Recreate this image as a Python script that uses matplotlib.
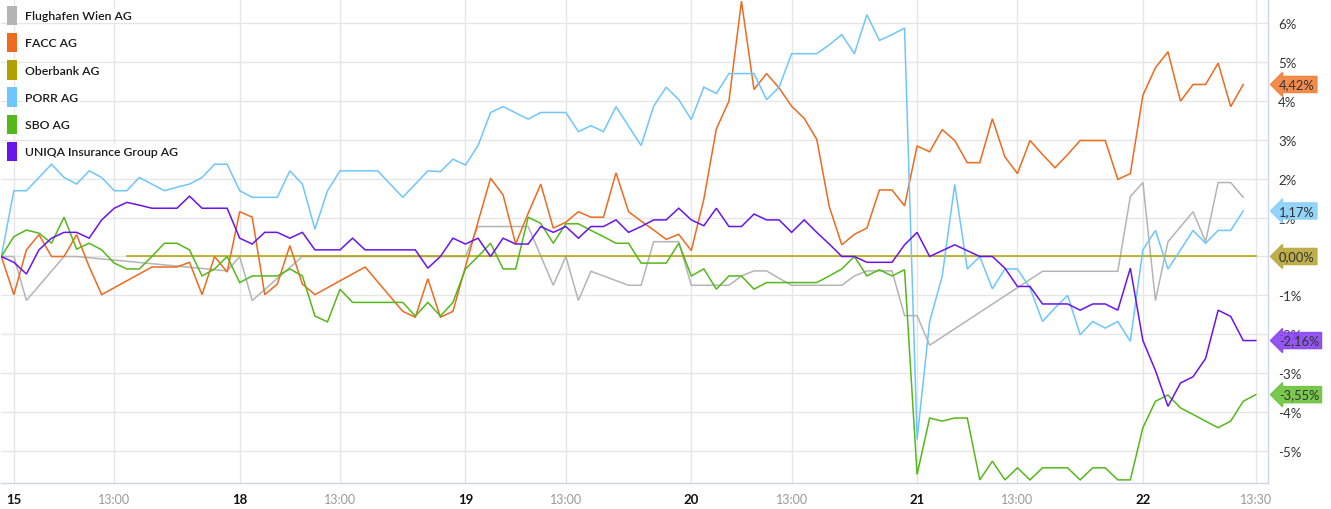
import numpy as np
import matplotlib.pyplot as plt
from matplotlib.patches import Patch
from matplotlib.transforms import blended_transform_factory

# --- DATA: % change, 30-minute steps (index 0 = previous close) ---
names = ['Flughafen Wien AG', 'FACC AG', 'Oberbank AG', 'PORR AG', 'SBO AG',
         'UNIQA Insurance Group AG']
colors = ['#b4b4b4', '#ee6a1e', '#b0a000', '#6ec6ff', '#55b81a', '#6a14ec']
tag_colors = ['#b4b4b4', '#f0803a', '#b8a83a', '#88d0fa', '#6cc23a', '#8844f0']
show_tag = [False, True, True, True, True, True]

flughafen = [0, 0, -1.13, None, None, 0, 0, None, None, None,
             None, None, None, None, None, None, None, None, -0.37, 0,
             -1.13, None, None, None, 0, None, None, None, None, None,
             None, None, None, None, None, None, None, 0, 0.77, 0.77,
             0.77, 0.77, 0.77, None, -0.74, 0, -1.13, -0.38, -0.50, -0.62,
             -0.74, -0.74, 0.38, 0.38, 0.38, -0.74, -0.74, -0.74, -0.74, -0.50,
             -0.37, -0.37, -0.56, -0.74, -0.74, -0.74, -0.74, -0.74, -0.50, -0.37,
             -0.37, -0.37, -1.52, -1.52, -2.28, None, None, None, None, None,
             None, None, None, -0.38, None, None, None, None, None, -0.38,
             1.54, 1.90, -1.13, 0.38, None, 1.15, 0.38, 1.90, 1.90, 1.52, None]

facc = [0, -0.98, 0.17, 0.56, 0, 0, 0.56, -0.26, -0.98, None,
        None, None, -0.27, -0.27, -0.27, -0.15, -0.98, 0, -0.40, 1.15,
        1.01, -0.98, -0.71, 0.28, -0.71, -0.98, None, None, None, -0.27,
        None, None, -1.41, -1.56, -0.57, -1.56, -1.41, -0.26, 0.89, 2.01,
        1.58, 0.32, 1.11, 1.86, 0.73, 0.88, 1.15, 1.01, 1.01, 2.15,
        1.15, 0.91, 0.68, 0.44, 0.57, 0.15, 1.47, 3.28, 3.99, 6.56,
        4.29, 4.70, 4.33, 3.86, 3.55, 3.01, 1.28, 0.30, 0.57, 0.73,
        1.71, 1.71, 1.30, 2.84, 2.69, 3.26, 2.98, 2.41, 2.41, 3.54,
        2.56, 2.13, 2.98, 2.62, 2.28, 2.62, 2.98, 2.98, 2.98, 1.98,
        2.13, 4.14, 4.85, 5.26, 3.99, 4.42, 4.42, 4.97, 3.85, 4.42, None]

oberbank = [None] * 10 + [0.0] * 91

porr = [0, 1.69, 1.69, 2.03, 2.37, 2.03, 1.86, 2.20, 2.03, 1.69,
        1.69, 2.03, 1.86, 1.69, 1.78, 1.86, 2.03, 2.37, 2.37, 1.69,
        1.52, 1.52, 1.52, 2.20, 1.86, 0.70, 1.69, 2.20, 2.20, 2.20,
        2.20, 1.86, 1.52, 1.86, 2.20, 2.18, 2.50, 2.35, 2.85, 3.70,
        3.85, 3.69, 3.53, 3.70, 3.70, 3.70, 3.21, 3.36, 3.21, 3.85,
        3.35, 2.85, 3.86, 4.35, 4.03, 3.52, 4.35, 4.19, 4.70, 4.70,
        4.70, 4.03, 4.35, 5.21, 5.21, 5.21, 5.44, 5.70, 5.21, 6.21,
        5.55, 5.70, 5.87, -4.70, -1.67, -0.51, 1.85, -0.32, 0, -0.83,
        -0.32, -0.32, -0.81, -1.67, -1.32, -1.00, -2.01, -1.67, -1.84, -1.67,
        -2.18, 0.17, 0.67, -0.32, 0.17, 0.67, 0.34, 0.67, 0.67, 1.17, None]

sbo = [0, 0.51, 0.68, 0.60, 0.34, 1.01, 0.19, 0.34, 0.17, -0.17,
       -0.32, -0.32, 0, 0.34, 0.34, 0.17, -0.50, -0.32, 0, -0.67,
       -0.50, -0.50, -0.50, -0.32, -0.50, -1.53, -1.68, -0.84, -1.18, -1.18,
       -1.18, -1.18, -1.18, -1.53, -1.18, -1.53, -1.18, -0.32, 0.0, 0.34,
       -0.32, -0.32, 1.01, 0.85, 0.34, 0.84, 0.84, 0.67, 0.51, 0.34,
       0.34, -0.17, -0.17, -0.17, 0.34, -0.50, -0.32, -0.84, -0.50, -0.50,
       -0.84, -0.67, -0.67, -0.67, -0.67, -0.67, -0.50, -0.32, 0, -0.50,
       -0.34, -0.50, -0.34, -5.60, -4.15, -4.23, -4.15, -4.15, -5.74, -5.26,
       -5.74, -5.43, -5.74, -5.43, -5.43, -5.43, -5.74, -5.43, -5.43, -5.74,
       -5.74, -4.40, -3.72, -3.56, -3.89, -4.06, -4.23, -4.40, -4.23, -3.72, -3.55]

uniqa = [0, -0.15, -0.45, 0.17, 0.47, 0.62, 0.62, 0.47, 0.94, 1.24,
         1.39, 1.32, 1.24, 1.24, 1.24, 1.55, 1.24, 1.24, 1.24, 0.47,
         0.32, 0.62, 0.62, 0.47, 0.62, 0.17, 0.17, 0.17, 0.47, 0.17,
         0.17, 0.17, 0.17, 0.17, -0.30, 0, 0.47, 0.32, 0.47, 0,
         0.47, 0.32, 0.32, 0.77, 0.62, 0.77, 0.47, 0.77, 0.77, 0.94,
         0.62, 0.77, 0.94, 0.94, 1.24, 0.94, 0.79, 1.24, 0.77, 0.77,
         1.09, 0.94, 0.94, 0.62, 0.94, 0.62, 0.32, 0, 0, -0.15,
         -0.15, -0.15, 0.30, 0.62, 0, 0.15, 0.30, 0.15, 0, 0,
         -0.30, -0.77, -0.77, -1.22, -1.22, -1.22, -1.38, -1.22, -1.22, -1.38,
         -0.30, -2.16, -2.93, -3.85, -3.25, -3.09, -2.62, -1.38, -1.54, -2.16, -2.16]

series = [flughafen, facc, oberbank, porr, sbo, uniqa]

x_ticks = [1, 9, 19, 27, 37, 45, 55, 63, 73, 81, 91, 100]
x_labels = ['15', '13:00', '18', '13:00', '19', '13:00', '20', '13:00',
            '21', '13:00', '22', '13:30']
y_ticks = [-5, -4, -3, -2, -1, 0, 1, 2, 3, 4, 5, 6]

# --- PLOT ---
plt.rcParams['font.family'] = ['Lato', 'DejaVu Sans']
plt.rcParams['axes.unicode_minus'] = False

fig = plt.figure(figsize=(13.31, 5.10), dpi=100)
ax = fig.add_axes([0.001, 26 / 510, 1267 / 1331, 483 / 510])

for vals, name, col in zip(series, names, colors):
    y = np.array([np.nan if v is None else v for v in vals], dtype=float)
    x = np.arange(len(y))
    ok = ~np.isnan(y)
    ax.plot(x[ok], y[ok], color=col, lw=1.1, label=name, solid_joinstyle='miter')

ax.set_xlim(0, 101)
ax.set_ylim(-5.82, 6.59)

ax.set_xticks(x_ticks)
ax.set_xticklabels(x_labels)
for lab in ax.get_xticklabels():
    if ':' in lab.get_text():
        lab.set_color('#999999')
        lab.set_fontsize(9)
    else:
        lab.set_color('#111111')
        lab.set_fontweight('bold')
        lab.set_fontsize(9.5)

ax.yaxis.tick_right()
ax.set_yticks(y_ticks)
ax.set_yticklabels([f'{t}%' for t in y_ticks], fontsize=9.5, color='#333333')
ax.tick_params(axis='both', length=0)
ax.tick_params(axis='y', pad=7)
ax.tick_params(axis='x', pad=7)

ax.grid(True, color='#e6e6e6', lw=1)
ax.set_axisbelow(True)
for s in ['top', 'left']:
    ax.spines[s].set_visible(False)
for s in ['right', 'bottom']:
    ax.spines[s].set_color('#ccd6eb')
    ax.spines[s].set_linewidth(1)

# end-of-line value tags
trans = blended_transform_factory(ax.transAxes, ax.transData)
for vals, tc, show in zip(series, tag_colors, show_tag):
    if not show:
        continue
    last = [v for v in vals if v is not None][-1]
    txt = f'{last:.2f}%'.replace('.', ',')
    ax.text(1.0085, last, txt, transform=trans, ha='left', va='center',
            fontsize=9.3, color='#333333', zorder=5, clip_on=False,
            bbox=dict(boxstyle='larrow,pad=0.16', fc=tc, ec=tc, alpha=0.9))

# legend with tall square swatches
handles = [Patch(facecolor=c, edgecolor='none') for c in colors]
leg = ax.legend(handles, names, loc='upper left', frameon=False,
                prop={'size': 8.8, 'weight': 'semibold'},
                handlelength=0.8, handleheight=2.1,
                handletextpad=0.7, labelspacing=0.62,
                borderaxespad=0.35, borderpad=0.1)
for t in leg.get_texts():
    t.set_color('#1a1a1a')
    t.set_bbox(dict(fc='white', ec='none', alpha=0.85, pad=1.5))

fig.savefig('out.png', dpi=100)
